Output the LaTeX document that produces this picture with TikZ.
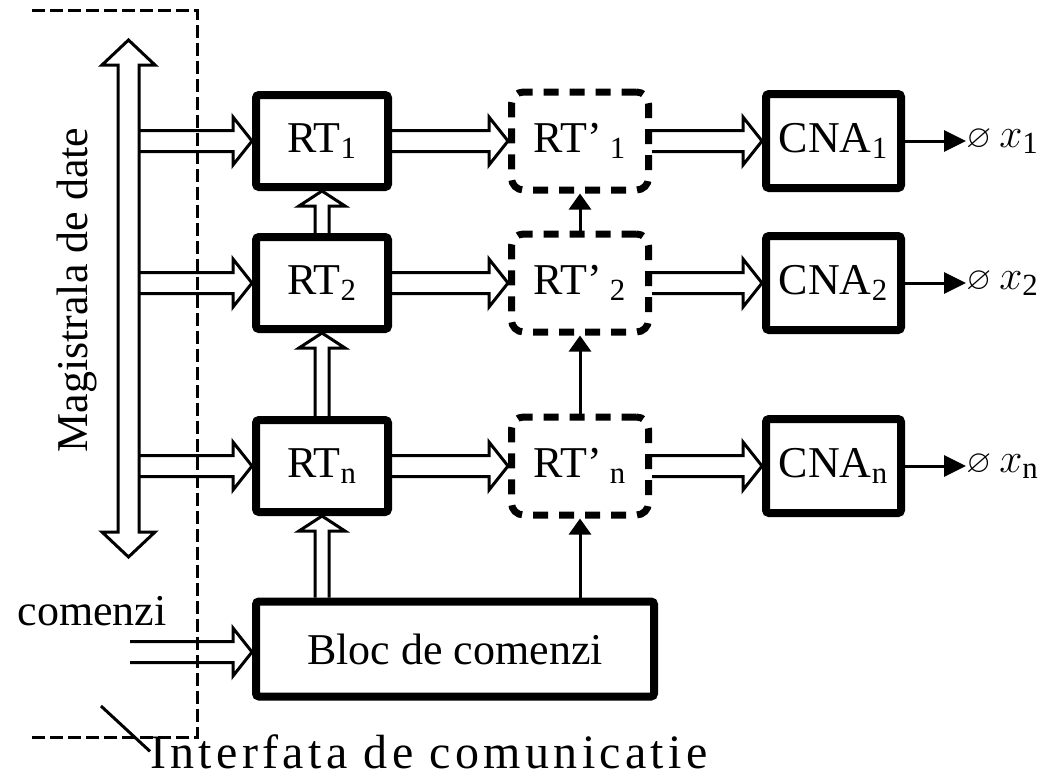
\documentclass[tikz,border=0pt]{standalone}
\usepackage{amssymb}
\usepackage{fontspec}
\setmainfont{Liberation Serif}
\newfontfamily\spacedfont[LetterSpace=9]{Liberation Serif}
\usetikzlibrary{arrows.meta,calc,positioning}
\newcommand{\lblfont}{\fontsize{22}{26}\selectfont}

\tikzset{
  reg/.style={draw,line width=4pt,rounded corners=1.5pt,minimum width=66pt,minimum height=46pt,inner sep=0pt,font=\lblfont},
  regp/.style={draw,line width=3.5pt,dash pattern=on 7.5pt off 5.5pt,rounded corners=6pt,minimum width=68.5pt,minimum height=49pt,inner sep=0pt,font=\lblfont},
  cna/.style={reg,minimum width=67.5pt,minimum height=47pt},
  fat/.style n args={3}{line width=1.5pt,line join=miter,to path={
      ($(\tikztostart)!#1!90:(\tikztotarget)$)
      -- ($(\tikztotarget)!#3!(\tikztostart)!#1!90:(\tikztotarget)$)
      -- ($(\tikztotarget)!#3!(\tikztostart)!#2!90:(\tikztotarget)$)
      -- (\tikztotarget)
      -- ($(\tikztotarget)!#3!(\tikztostart)!#2!-90:(\tikztotarget)$)
      -- ($(\tikztotarget)!#3!(\tikztostart)!#1!-90:(\tikztotarget)$)
      -- ($(\tikztostart)!#1!-90:(\tikztotarget)$)}},
  mainbus/.style={fat={5.25pt}{13.25pt}{12.5pt}},
  hbus/.style={fat={5.25pt}{12pt}{9.5pt}},
  vbus/.style={fat={3.5pt}{11.5pt}{7.5pt}},
  sig/.style={-{Triangle[width=11pt,length=8pt]},line width=1.5pt},
  outarr/.style={-{Triangle[width=10.5pt,length=11pt]},line width=1.5pt},
  iface/.style={line width=1.5pt,dash pattern=on 6.5pt off 2.5pt}
}

\begin{document}
\begin{tikzpicture}[x=0.5pt,y=-0.5pt]
\useasboundingbox (0,0) rectangle (1045,778);
% interface border
\draw[iface] (32,10) -- (197,10) -- (197,737) -- (30,737);
\node[font=\fontsize{24}{28}\selectfont,anchor=base west,inner sep=0pt] (ifcLbl) at (150,768) {\spacedfont Interfata de comunicatie};
\coordinate (ifcTick) at (101,706);
\draw[line width=1.5pt] (ifcTick) -- (ifcLbl.west);
% data bus
\coordinate (busTop) at (128.5,40);
\coordinate (busBot) at (128.5,557);
\coordinate (busMid) at (128.5,300);
\coordinate (busR) at (139,300);
\draw[mainbus] (busMid) to (busTop) (busMid) to (busBot);
\node[font=\lblfont,rotate=90] (busLbl) at (77,290) {Magistrala de date};
% one row per channel
\foreach \row/\y in {1/141,2/283,n/466}{
  \node[reg] (RT\row) at (322,\y) {RT\textsubscript{\row}};
  \node[regp] (RTp\row) at (580,\y) {RT'\hspace{4pt}\textsubscript{\row}};
  \node[cna] (CNA\row) at (833.5,\y) {CNA\textsubscript{\row}};
  \node[anchor=west,inner sep=0pt,font=\lblfont] (out\row) at (966,\y) {{\fontsize{16}{16}\selectfont$\varnothing$}\hspace{4pt}$x_{\mathrm{\row}}$};
  \draw[hbus] (RT\row.west -| busR) to (RT\row.west);
  \draw[hbus] (RT\row.east) to (RTp\row.west);
  \draw[hbus] (RTp\row.east) to (CNA\row.west);
  \draw[outarr] (CNA\row.east) -- (out\row.west);
}
% command block
\node[reg,minimum width=199pt,minimum height=47.5pt] (Bloc) at (455,649) {Bloc de comenzi};
\node[font=\lblfont] (cmdLbl) at (92,611) {comenzi};
\coordinate (cmdIn) at (130,652);
\draw[hbus] (cmdIn) to (cmdIn -| Bloc.west);
% load chain
\draw[vbus] (RT2.north) to (RT1.south);
\draw[vbus] (RTn.north) to (RT2.south);
\draw[vbus] (RTn.south |- Bloc.north) to (RTn.south);
\draw[sig] (RTp2.north) -- (RTp1.south);
\draw[sig] (RTpn.north) -- (RTp2.south);
\draw[sig] (RTpn.south |- Bloc.north) -- (RTpn.south);
\end{tikzpicture}
\end{document}
